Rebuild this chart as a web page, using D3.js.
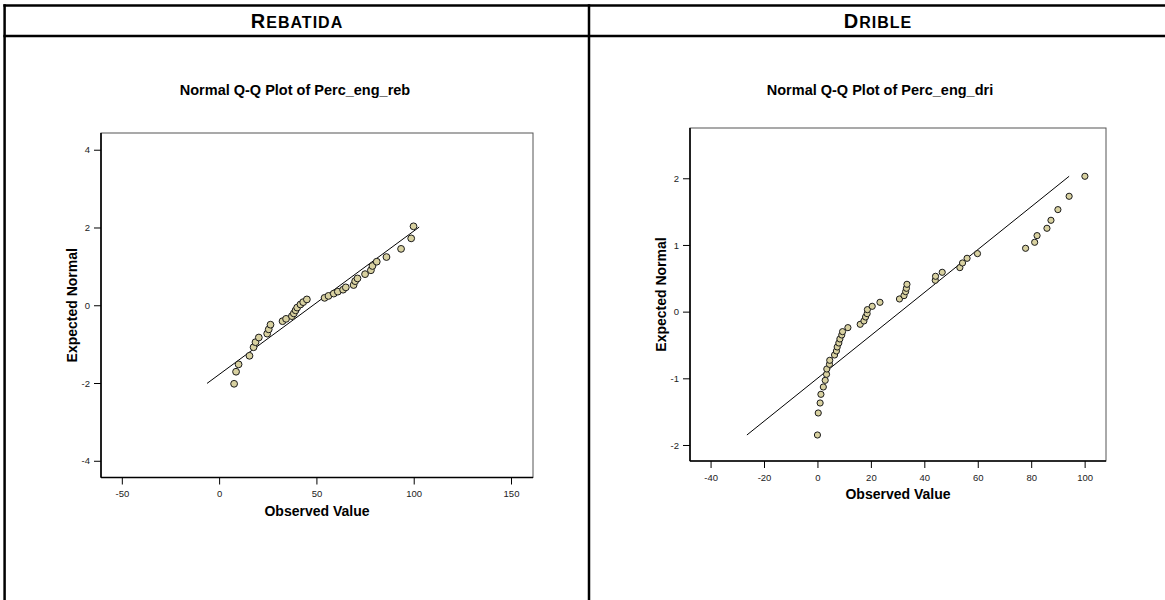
<!DOCTYPE html>
<html><head><meta charset="utf-8">
<script src="https://cdn.jsdelivr.net/npm/d3@7"></script>
<style>
body{margin:0;background:#fff}
svg{font-family:"Liberation Sans",Arial,Helvetica,sans-serif}
</style></head>
<body><svg id="c" width="1165" height="600"></svg>
<script>
// ---------------- data ----------------
const panelHeaders = ["Rebatida", "Drible"];
const plotTitles = ["Normal Q-Q Plot of Perc_eng_reb", "Normal Q-Q Plot of Perc_eng_dri"];
const xAxisTitle = "Observed Value";
const yAxisTitle = "Expected Normal";

const rebObserved = [7.7, 8.7, 10.0, 15.6, 17.7, 18.7, 20.4, 24.7, 25.5, 26.4, 32.6, 34.4, 37.4, 38.4, 39.3, 40.1, 41.8, 43.2, 45.1, 54.2, 56.2, 58.9, 61.0, 63.7, 65.1, 69.1, 69.9, 71.1, 75.0, 78.0, 78.8, 81.0, 86.0, 93.5, 98.7, 99.9];
const rebExpected = [-2.02, -1.71, -1.52, -1.30, -1.08, -0.95, -0.83, -0.73, -0.62, -0.50, -0.41, -0.35, -0.28, -0.21, -0.13, -0.06, 0.02, 0.08, 0.15, 0.19, 0.24, 0.30, 0.35, 0.40, 0.46, 0.52, 0.62, 0.69, 0.80, 0.90, 1.01, 1.12, 1.24, 1.45, 1.72, 2.03];
const rebLineObserved = [-6.2, 102.8];
const rebLineExpected = [-2.01, 2.01];
const rebXDomain = [-60.7, 161.3];
const rebYDomain = [-4.43, 4.43];
const rebXTicks = [-50, 0, 50, 100, 150];
const rebYTicks = [-4, -2, 0, 2, 4];

const driObserved = [0.0, 0.3, 1.0, 1.3, 2.2, 2.9, 3.4, 3.5, 4.5, 4.6, 6.4, 7.1, 7.4, 8.0, 8.4, 9.1, 9.4, 11.4, 16.0, 17.4, 18.0, 18.6, 18.7, 20.5, 23.4, 30.7, 32.4, 33.0, 33.3, 33.5, 44.1, 44.2, 46.7, 53.3, 54.3, 56.0, 59.9, 77.9, 81.3, 82.2, 85.9, 87.4, 90.0, 94.2, 100.1];
const driExpected = [-1.85, -1.52, -1.37, -1.24, -1.13, -1.03, -0.94, -0.86, -0.79, -0.73, -0.65, -0.59, -0.53, -0.47, -0.41, -0.35, -0.30, -0.24, -0.19, -0.14, -0.08, -0.03, 0.03, 0.08, 0.14, 0.19, 0.24, 0.30, 0.35, 0.41, 0.47, 0.53, 0.59, 0.66, 0.73, 0.80, 0.87, 0.95, 1.04, 1.14, 1.25, 1.37, 1.53, 1.73, 2.03];
const driLineObserved = [-26.4, 94.2];
const driLineExpected = [-1.85, 2.03];
const driXDomain = [-47.7, 108];
const driYDomain = [-2.24, 2.754];
const driXTicks = [-40, -20, 0, 20, 40, 60, 80, 100];
const driYTicks = [-2, -1, 0, 1, 2];

// ---------------- layout ----------------
const svg = d3.select("#c");
const tableTop = 5.5, headerBottom = 36, tableLeft = 4.6, tableMid = 589, tableRight = 1165;

const panels = [
  {cx: 297, tcx: 295, frame: {x0: 101, x1: 533, y0: 133, y1: 477.5},
   obs: rebObserved, exp: rebExpected, lx: rebLineObserved, ly: rebLineExpected,
   xd: rebXDomain, yd: rebYDomain, xt: rebXTicks, yt: rebYTicks},
  {cx: 878, tcx: 880, frame: {x0: 690, x1: 1106, y0: 128, y1: 461},
   obs: driObserved, exp: driExpected, lx: driLineObserved, ly: driLineExpected,
   xd: driXDomain, yd: driYDomain, xt: driXTicks, yt: driYTicks}
];

// table lines
const tbl = svg.append("g").attr("stroke", "#000").attr("stroke-width", 2.5);
tbl.append("line").attr("x1", tableLeft - 1.2).attr("x2", tableRight).attr("y1", tableTop).attr("y2", tableTop);
tbl.append("line").attr("x1", tableLeft - 1.2).attr("x2", tableRight).attr("y1", headerBottom).attr("y2", headerBottom);
[tableLeft, tableMid].forEach(x =>
  tbl.append("line").attr("x1", x).attr("x2", x).attr("y1", tableTop - 1.2).attr("y2", 600));

const fmt = d => String(d);

panels.forEach((p, i) => {
  // header in small caps
  const word = panelHeaders[i].toUpperCase();
  const h = svg.append("text").attr("x", p.cx).attr("y", 28).attr("text-anchor", "middle")
    .attr("font-weight", "bold").attr("fill", "#000").attr("letter-spacing", "1px");
  h.append("tspan").attr("font-size", "20px").text(word[0]);
  h.append("tspan").attr("font-size", "16px").text(word.slice(1));

  // title
  svg.append("text").attr("x", p.tcx).attr("y", 95).attr("text-anchor", "middle")
    .attr("font-weight", "bold").attr("font-size", "14.5px").text(plotTitles[i]);

  const f = p.frame;
  const x = d3.scaleLinear().domain(p.xd).range([f.x0, f.x1]);
  const y = d3.scaleLinear().domain(p.yd).range([f.y1, f.y0]);

  // frame
  svg.append("rect").attr("x", f.x0).attr("y", f.y0).attr("width", f.x1 - f.x0).attr("height", f.y1 - f.y0)
    .attr("fill", "none").attr("stroke", "#555").attr("stroke-width", 1);

  // axes
  const gx = svg.append("g").attr("transform", `translate(0,${f.y1})`)
    .call(d3.axisBottom(x).tickValues(p.xt).tickSize(7).tickPadding(6).tickFormat(fmt));
  const gy = svg.append("g").attr("transform", `translate(${f.x0},0)`)
    .call(d3.axisLeft(y).tickValues(p.yt).tickSize(7).tickPadding(4).tickFormat(fmt));
  [gx, gy].forEach(g => {
    g.select(".domain").attr("stroke", "#000").attr("stroke-width", 1.6);
    g.selectAll(".tick line").attr("stroke", "#000").attr("stroke-width", 1);
    g.selectAll(".tick text").attr("font-size", "9.5px").attr("fill", "#222")
      .attr("font-family", '"Liberation Sans",Arial,sans-serif');
  });
  gx.select(".domain").attr("d", `M${f.x0},0H${f.x1}`);
  gy.select(".domain").attr("d", `M0,${f.y0}V${f.y1}`);

  // axis titles
  svg.append("text").attr("x", (f.x0 + f.x1) / 2).attr("y", f.y1 + 38).attr("text-anchor", "middle")
    .attr("font-weight", "bold").attr("font-size", "14px").text(xAxisTitle);
  svg.append("text").attr("transform", `translate(${f.x0 - 24},${(f.y0 + f.y1) / 2}) rotate(-90)`)
    .attr("text-anchor", "middle").attr("font-weight", "bold").attr("font-size", "14px").text(yAxisTitle);

  // reference line
  svg.append("line").attr("x1", x(p.lx[0])).attr("y1", y(p.ly[0]))
    .attr("x2", x(p.lx[1])).attr("y2", y(p.ly[1])).attr("stroke", "#000").attr("stroke-width", 1);

  // points
  svg.append("g").selectAll("circle").data(p.obs.map((o, k) => [o, p.exp[k]])).join("circle")
    .attr("cx", d => x(d[0])).attr("cy", d => y(d[1])).attr("r", i === 0 ? 3.4 : 3.1)
    .attr("fill", "#d8d1a0").attr("stroke", "#1a1a1a").attr("stroke-width", 1);
});
</script>
</body></html>
